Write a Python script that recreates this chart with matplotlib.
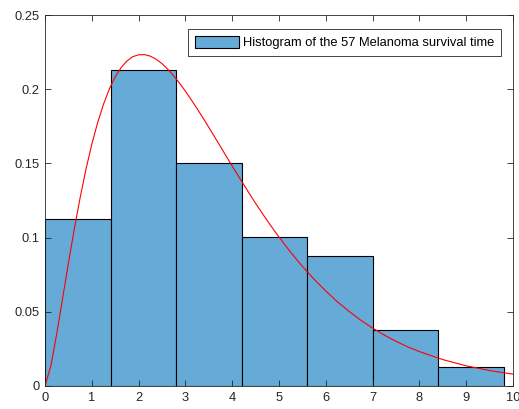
import matplotlib
matplotlib.use("Agg")
import matplotlib.pyplot as plt

plt.rcParams['font.family'] = ['Liberation Sans', 'DejaVu Sans']

# histogram of survival time (density normalised, 57 samples)
bin_edges = [0, 1.4, 2.8, 4.2, 5.6, 7.0, 8.4, 9.8]
bin_density = [0.1128, 0.2130, 0.1504, 0.1003, 0.0877, 0.0376, 0.0125]

# fitted density curve
curve_x = [0, 0.125, 0.25, 0.375, 0.5, 0.625, 0.75, 0.875, 1, 1.125, 1.25,
           1.375, 1.5, 1.625, 1.75, 1.875, 2, 2.125, 2.25, 2.375, 2.5, 2.625,
           2.75, 2.875, 3, 3.125, 3.25, 3.375, 3.5, 3.625, 3.75, 3.875, 4,
           4.125, 4.25, 4.375, 4.5, 4.625, 4.75, 4.875, 5, 5.25, 5.5, 5.75,
           6, 6.25, 6.5, 6.75, 7, 7.25, 7.5, 7.75, 8, 8.5, 9, 9.5, 10]
curve_y = [0, 0.0136, 0.0351, 0.0588, 0.0828, 0.1056, 0.1268, 0.1460, 0.1629,
           0.1775, 0.1899, 0.2002, 0.2083, 0.2145, 0.2190, 0.2219, 0.2232,
           0.2233, 0.2223, 0.2202, 0.2172, 0.2134, 0.2090, 0.2041, 0.1987,
           0.1929, 0.1869, 0.1807, 0.1743, 0.1678, 0.1613, 0.1547, 0.1482,
           0.1418, 0.1355, 0.1292, 0.1231, 0.1172, 0.1114, 0.1058, 0.1004,
           0.0901, 0.0806, 0.0719, 0.0640, 0.0567, 0.0502, 0.0443, 0.0390,
           0.0343, 0.0301, 0.0264, 0.0232, 0.0178, 0.0136, 0.0104, 0.0080]

x_ticks = [0, 1, 2, 3, 4, 5, 6, 7, 8, 9, 10]
y_ticks = [0, 0.05, 0.1, 0.15, 0.2, 0.25]
y_ticklabels = ['0', '0.05', '0.1', '0.15', '0.2', '0.25']

axis_grey = '#262626'

fig = plt.figure(figsize=(5.19, 4.09), dpi=100)
ax = fig.add_axes([45 / 519, 23 / 409, 468 / 519, 371 / 409])

widths = [bin_edges[i + 1] - bin_edges[i] for i in range(len(bin_density))]
ax.bar(bin_edges[:-1], bin_density, width=widths, align='edge',
       color='#66aad7', edgecolor='black', linewidth=0.8,
       label='Histogram of the 57 Melanoma survival time')
ax.plot(curve_x, curve_y, color='red', linewidth=0.8)

ax.set_xlim(0, 10)
ax.set_ylim(0, 0.25)
ax.set_xticks(x_ticks)
ax.set_yticks(y_ticks)
ax.set_yticklabels(y_ticklabels)
ax.tick_params(direction='in', top=True, right=True, length=4, width=0.6,
               colors=axis_grey, labelsize=9.3, pad=4)
for sp in ax.spines.values():
    sp.set_color(axis_grey)
    sp.set_linewidth(0.6)

leg = ax.legend(loc='upper right', bbox_to_anchor=(0.974, 0.962),
                borderaxespad=0, fontsize=9.3, fancybox=False, framealpha=1,
                edgecolor=axis_grey, handlelength=3.4, handleheight=1.1,
                handletextpad=0.35, borderpad=0.5)
leg.get_frame().set_linewidth(0.6)

fig.savefig('out.png', dpi=100)
